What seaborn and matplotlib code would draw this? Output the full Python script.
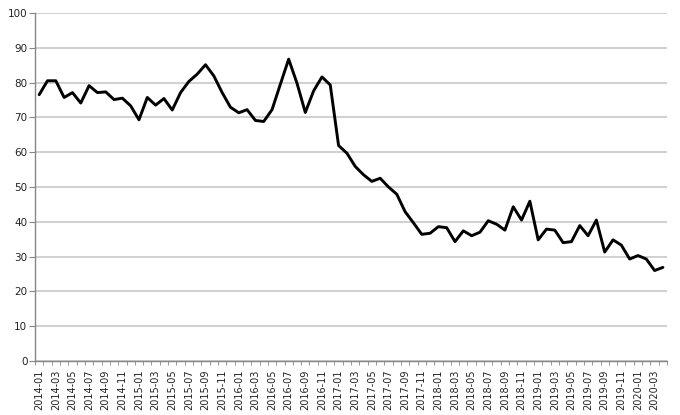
import matplotlib
matplotlib.use("Agg")
import matplotlib.pyplot as plt
import seaborn as sns
import pandas as pd
import numpy as np

# Monthly values, 2014-01 .. 2020-04
VALUES_2014 = [76.5, 80.5, 80.5, 75.7, 77.1, 74.1, 79.1, 77.1, 77.3, 75.1, 75.5, 73.3]
VALUES_2015 = [69.3, 75.7, 73.5, 75.4, 72.1, 77.1, 80.3, 82.4, 85.1, 81.9, 77.1, 72.9]
VALUES_2016 = [71.3, 72.2, 69.1, 68.8, 72.2, 79.5, 86.7, 79.8, 71.4, 77.6, 81.6, 79.3]
VALUES_2017 = [61.9, 59.7, 55.9, 53.5, 51.6, 52.5, 50.0, 47.9, 42.9, 39.7, 36.4, 36.7]
VALUES_2018 = [38.6, 38.3, 34.3, 37.4, 36.0, 37.0, 40.3, 39.3, 37.6, 44.3, 40.5, 45.9]
VALUES_2019 = [34.8, 37.9, 37.6, 34.0, 34.3, 38.9, 36.0, 40.5, 31.3, 34.8, 33.3, 29.3]
VALUES_2020 = [30.3, 29.3, 26.0, 26.9]

YEARS = [2014, 2015, 2016, 2017, 2018, 2019, 2020]
values = VALUES_2014 + VALUES_2015 + VALUES_2016 + VALUES_2017 + VALUES_2018 + VALUES_2019 + VALUES_2020
months = [f"{y}-{m:02d}" for y in YEARS for m in range(1, 13)][:len(values)]

df = pd.DataFrame({"pos": np.arange(len(values)), "month": months, "value": values})

sns.set_style("white")
plt.rcParams["font.family"] = ["DejaVu Sans"]

fig = plt.figure(figsize=(6.8, 4.15), dpi=100)
ax = fig.add_axes([0.0515, 0.130, 0.9295, 0.839])

sns.lineplot(data=df, x="pos", y="value", color="black", linewidth=2.1, ax=ax)

ax.set_xlim(-0.5, len(values) - 0.5)
ax.set_ylim(0, 100)
ax.set_yticks(range(0, 101, 10))
ax.yaxis.grid(True, color="#c3c3c3", linewidth=1.1)
ax.set_axisbelow(True)

# labels every second month, tick marks at category boundaries
ax.set_xticks(df["pos"][::2])
ax.set_xticklabels(df["month"][::2], rotation=90, fontsize=7, color="#222222")
ax.set_xticks(np.arange(-0.5, len(values), 1), minor=True)
ax.tick_params(axis="x", which="major", length=0, pad=6)
ax.tick_params(axis="x", which="minor", length=3, color="#868686", direction="out", bottom=True)
ax.tick_params(axis="y", length=4, color="#868686", direction="out", left=True,
               labelsize=7.5, labelcolor="#222222", pad=1.5)

ax.set_xlabel("")
ax.set_ylabel("")
for side in ["top", "right"]:
    ax.spines[side].set_visible(False)
for side in ["left", "bottom"]:
    ax.spines[side].set_color("#868686")
    ax.spines[side].set_linewidth(1.0)

fig.savefig("out.png", dpi=100)
plt.close(fig)
